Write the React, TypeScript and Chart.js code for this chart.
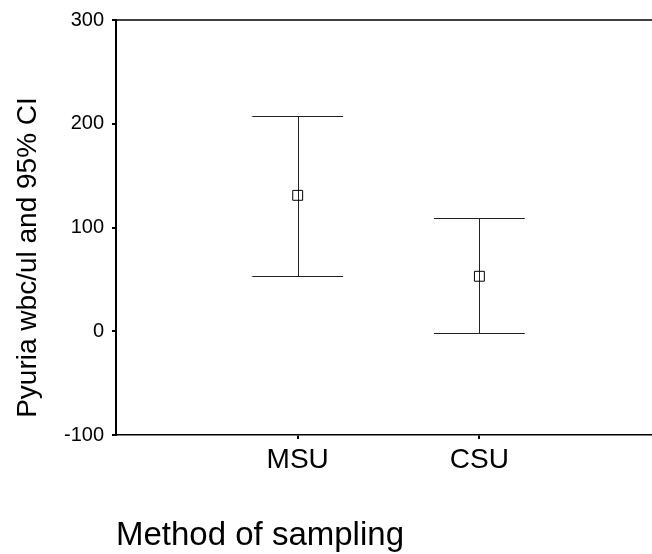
import React, { useEffect, useRef } from "react";
import { Chart, registerables } from "chart.js";

Chart.register(...registerables);

const categories = ["MSU", "CSU"];
const means = [131, 53];
const lowerCI = [53, -2];
const upperCI = [207, 109];
const yTicks = [-100, 0, 100, 200, 300];
const xTitle = "Method of sampling";
const yTitle = "Pyuria wbc/ul and 95% CI";

const FONT = "'Liberation Sans', Arial, sans-serif";

const errorBarPlugin = {
  id: "errorBars",
  beforeDatasetsDraw(chart: any) {
    const { ctx, scales, chartArea } = chart;
    const xs = scales.x;
    const ys = scales.y;
    ctx.save();
    ctx.strokeStyle = "#000";
    ctx.lineWidth = 1.5;
    ctx.beginPath();
    ctx.moveTo(chartArea.left, chartArea.top);
    ctx.lineTo(chartArea.right, chartArea.top);
    ctx.stroke();
    ctx.strokeStyle = "#222";
    ctx.lineWidth = 1;
    categories.forEach((_, i) => {
      const x = xs.getPixelForValue(i + 1);
      const xl = xs.getPixelForValue(i + 1 - 0.25);
      const xr = xs.getPixelForValue(i + 1 + 0.25);
      const yTop = Math.round(ys.getPixelForValue(upperCI[i])) + 0.5;
      const yBot = Math.round(ys.getPixelForValue(lowerCI[i])) + 0.5;
      const cx = Math.round(x) + 0.5;
      ctx.beginPath();
      ctx.moveTo(cx, yTop);
      ctx.lineTo(cx, yBot);
      ctx.moveTo(xl, yTop);
      ctx.lineTo(xr, yTop);
      ctx.moveTo(xl, yBot);
      ctx.lineTo(xr, yBot);
      ctx.stroke();
    });
    ctx.restore();
  },
  afterDraw(chart: any) {
    const { ctx, chartArea } = chart;
    ctx.save();
    ctx.fillStyle = "#000";
    ctx.font = `33px ${FONT}`;
    ctx.textAlign = "left";
    ctx.textBaseline = "alphabetic";
    ctx.fillText(xTitle, chartArea.left, chartArea.bottom + 110);
    ctx.translate(chartArea.left - 80, (chartArea.top + chartArea.bottom) / 2 + 30);
    ctx.rotate(-Math.PI / 2);
    ctx.font = `28px ${FONT}`;
    ctx.textAlign = "center";
    ctx.fillText(yTitle, 0, 0);
    ctx.restore();
  },
};

export default function App() {
  const ref = useRef<HTMLCanvasElement | null>(null);
  useEffect(() => {
    if (!ref.current) return;
    const chart = new Chart(ref.current, {
      type: "scatter",
      data: {
        datasets: [
          {
            data: categories.map((_, i) => ({ x: i + 1, y: means[i] })),
            pointStyle: "rect",
            pointRadius: 7,
            backgroundColor: "rgba(0,0,0,0)",
            borderColor: "#000",
            borderWidth: 1,
          },
        ],
      },
      options: {
        animation: false,
        responsive: false,
        devicePixelRatio: 1,
        layout: { autoPadding: false, padding: { top: 19, right: 0, left: 0, bottom: 0 } },
        plugins: { legend: { display: false }, tooltip: { enabled: false } },
        scales: {
          x: {
            type: "linear",
            min: 0,
            max: 2.95,
            afterBuildTicks: (s: any) => {
              s.ticks = categories.map((_, i) => ({ value: i + 1 }));
            },
            afterFit: (s: any) => {
              s.height = 119;
            },
            ticks: {
              callback: (v: any) => categories[Number(v) - 1] ?? "",
              color: "#000",
              font: { family: FONT, size: 28 },
              padding: 4,
              maxRotation: 0,
            },
            grid: {
              drawOnChartArea: false,
              drawTicks: true,
              tickLength: 4,
              color: "#000",
              lineWidth: 2,
            },
            border: { display: true, color: "#000", width: 1.5 },
          },
          y: {
            type: "linear",
            min: -100,
            max: 300,
            afterBuildTicks: (s: any) => {
              s.ticks = yTicks.map((v) => ({ value: v }));
            },
            afterFit: (s: any) => {
              s.width = 116;
            },
            ticks: {
              color: "#000",
              font: { family: FONT, size: 20 },
              padding: 8,
            },
            grid: {
              drawOnChartArea: false,
              drawTicks: true,
              tickLength: 4,
              color: "#000",
              lineWidth: 2,
            },
            border: { display: true, color: "#000", width: 2 },
          },
        },
      },
      plugins: [errorBarPlugin],
    } as any);
    return () => chart.destroy();
  }, []);
  return (
    <div style={{ position: "absolute", left: 0, top: 0, width: 652, height: 554, background: "#fff" }}>
      <canvas ref={ref} width={652} height={554} style={{ width: 652, height: 554 }} />
    </div>
  );
}
